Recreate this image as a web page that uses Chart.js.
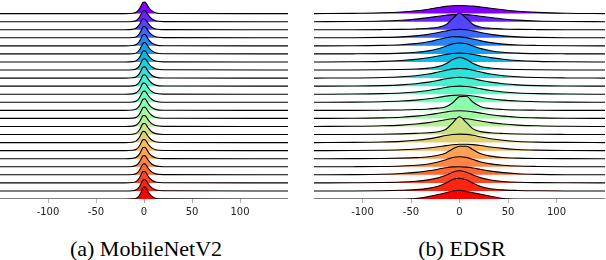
<!DOCTYPE html>
<html>
<head>
<meta charset="utf-8">
<script src="https://cdn.jsdelivr.net/npm/chart.js@4"></script>
<style>
    body { margin: 0; background: #fff; width: 606px; height: 260px; position: relative; overflow: hidden; }
    canvas { position: absolute; top: 0; }
    #chartA { left: 0; }
    #chartB { left: 314px; }
    .caption { position: absolute; top: 235px; font-family: 'Liberation Serif', serif; font-size: 22px; line-height: 27px; color: #000; text-align: center; width: 200px; }
</style>
</head>
<body>
<canvas id="chartA" width="288" height="221"></canvas>
<canvas id="chartB" width="291" height="221"></canvas>
<div class="caption" style="left: 46px;">(a) MobileNetV2</div>
<div class="caption" style="left: 362px;">(b) EDSR</div>
<script>
// Datos
const xTicks = [-100, -50, 0, 50, 100];

// MobileNetV2: posiciones x y alturas de cada cresta (fila 0 arriba)
const xsA = [-150, -20, -12, -8, -5, -3, -1, 1, 3, 5, 8, 12, 20, 150];
const ridgesA = [
    [0, 0, 0.04, 0.18, 0.55, 0.98, 1.40, 1.44, 1.14, 0.76, 0.38, 0.12, 0.01, 0],
    [0, 0, 0.03, 0.15, 0.50, 0.93, 1.32, 1.37, 1.08, 0.74, 0.36, 0.11, 0.01, 0],
    [0, 0, 0.05, 0.21, 0.60, 1.03, 1.37, 1.32, 1.03, 0.69, 0.33, 0.10, 0.01, 0],
    [0, 0, 0.03, 0.13, 0.47, 0.91, 1.34, 1.40, 1.11, 0.76, 0.39, 0.12, 0.02, 0],
    [0, 0, 0.04, 0.17, 0.53, 0.95, 1.38, 1.42, 1.11, 0.74, 0.37, 0.12, 0.01, 0],
    [0, 0, 0.03, 0.13, 0.45, 0.88, 1.32, 1.42, 1.15, 0.79, 0.41, 0.14, 0.02, 0],
    [0, 0, 0.04, 0.16, 0.51, 0.93, 1.35, 1.38, 1.08, 0.72, 0.35, 0.11, 0.01, 0],
    [0, 0, 0.03, 0.15, 0.49, 0.93, 1.34, 1.40, 1.13, 0.78, 0.41, 0.16, 0.03, 0],
    [0, 0, 0.04, 0.17, 0.52, 0.95, 1.36, 1.39, 1.09, 0.74, 0.36, 0.12, 0.01, 0],
    [0, 0, 0.03, 0.14, 0.48, 0.91, 1.35, 1.42, 1.13, 0.77, 0.39, 0.13, 0.02, 0],
    [0, 0, 0.04, 0.18, 0.55, 0.97, 1.38, 1.37, 1.06, 0.71, 0.34, 0.11, 0.01, 0],
    [0, 0, 0.03, 0.15, 0.50, 0.93, 1.34, 1.39, 1.10, 0.75, 0.38, 0.12, 0.01, 0],
    [0, 0, 0.04, 0.16, 0.52, 0.95, 1.38, 1.43, 1.12, 0.75, 0.37, 0.12, 0.01, 0],
    [0, 0, 0.03, 0.15, 0.49, 0.92, 1.35, 1.40, 1.11, 0.76, 0.39, 0.13, 0.02, 0],
    [0, 0, 0.04, 0.17, 0.52, 0.94, 1.34, 1.35, 1.06, 0.72, 0.35, 0.11, 0.01, 0],
    [0, 0, 0.04, 0.17, 0.53, 0.95, 1.35, 1.36, 1.07, 0.72, 0.35, 0.11, 0.01, 0],
    [0, 0, 0.05, 0.21, 0.61, 1.05, 1.40, 1.34, 1.01, 0.67, 0.32, 0.10, 0.01, 0],
    [0, 0, 0.04, 0.18, 0.55, 0.98, 1.37, 1.35, 1.05, 0.70, 0.34, 0.11, 0.01, 0],
    [0, 0, 0.04, 0.17, 0.53, 0.96, 1.39, 1.42, 1.10, 0.73, 0.36, 0.12, 0.01, 0],
    [0, 0, 0.04, 0.18, 0.55, 0.97, 1.37, 1.38, 1.07, 0.72, 0.35, 0.11, 0.01, 0],
    [0, 0, 0.04, 0.17, 0.53, 0.95, 1.34, 1.36, 1.07, 0.72, 0.36, 0.12, 0.02, 0],
    [0, 0, 0.04, 0.19, 0.57, 1.00, 1.40, 1.40, 1.08, 0.72, 0.35, 0.11, 0.01, 0],
    [0, 0, 0.03, 0.15, 0.49, 0.93, 1.36, 1.42, 1.13, 0.78, 0.41, 0.14, 0.02, 0],
    [0, 0, 0.02, 0.10, 0.40, 0.88, 1.40, 1.50, 1.18, 0.76, 0.35, 0.10, 0.01, 0]
];

// EDSR
const xsB = [-150, -110, -80, -60, -45, -32, -22, -14, -7, 0, 7, 14, 22, 32, 45, 60, 80, 110, 150];
const ridgesB = [
    [0, 0.03, 0.10, 0.20, 0.35, 0.55, 0.75, 0.90, 0.98, 1.00, 0.98, 0.93, 0.82, 0.66, 0.48, 0.30, 0.16, 0.05, 0],
    [0, 0.02, 0.08, 0.18, 0.32, 0.50, 0.68, 0.80, 0.88, 0.90, 0.87, 0.80, 0.68, 0.52, 0.34, 0.19, 0.08, 0.02, 0],
    [0, 0, 0.02, 0.05, 0.10, 0.18, 0.30, 0.62, 1.40, 2.05, 1.42, 0.66, 0.32, 0.18, 0.10, 0.05, 0.02, 0, 0],
    [0, 0.01, 0.05, 0.12, 0.24, 0.42, 0.65, 0.85, 1.00, 1.05, 1.00, 0.86, 0.66, 0.43, 0.24, 0.12, 0.05, 0.01, 0],
    [0, 0.01, 0.06, 0.14, 0.28, 0.50, 0.78, 1.00, 1.13, 1.12, 1.02, 0.84, 0.62, 0.40, 0.22, 0.11, 0.05, 0.01, 0],
    [0, 0.01, 0.04, 0.10, 0.20, 0.38, 0.64, 0.95, 1.25, 1.35, 1.26, 0.98, 0.66, 0.40, 0.20, 0.10, 0.04, 0.01, 0],
    [0, 0.02, 0.08, 0.18, 0.32, 0.52, 0.74, 0.92, 1.05, 1.10, 1.05, 0.93, 0.75, 0.54, 0.34, 0.19, 0.08, 0.02, 0],
    [0, 0, 0.03, 0.07, 0.13, 0.24, 0.42, 0.78, 1.30, 1.57, 1.32, 0.80, 0.44, 0.25, 0.13, 0.07, 0.03, 0, 0],
    [0, 0.02, 0.08, 0.17, 0.30, 0.50, 0.76, 0.98, 1.14, 1.20, 1.14, 0.98, 0.76, 0.50, 0.30, 0.16, 0.07, 0.02, 0],
    [0, 0.02, 0.07, 0.16, 0.30, 0.50, 0.72, 0.92, 1.05, 1.10, 1.05, 0.92, 0.72, 0.50, 0.30, 0.16, 0.07, 0.02, 0],
    [0, 0.02, 0.07, 0.15, 0.28, 0.46, 0.66, 0.84, 0.96, 1.00, 0.96, 0.85, 0.67, 0.47, 0.28, 0.15, 0.07, 0.02, 0],
    [0, 0.02, 0.07, 0.15, 0.27, 0.43, 0.60, 0.76, 0.86, 0.90, 0.87, 0.77, 0.62, 0.44, 0.27, 0.15, 0.07, 0.02, 0],
    [0, 0, 0.02, 0.05, 0.10, 0.17, 0.27, 0.45, 0.95, 1.70, 1.75, 1.00, 0.45, 0.22, 0.11, 0.05, 0.02, 0, 0],
    [0, 0.02, 0.07, 0.15, 0.28, 0.45, 0.64, 0.80, 0.91, 0.95, 0.92, 0.81, 0.65, 0.46, 0.28, 0.15, 0.07, 0.02, 0],
    [0, 0.02, 0.08, 0.17, 0.30, 0.48, 0.67, 0.84, 0.96, 1.00, 0.96, 0.84, 0.67, 0.48, 0.30, 0.17, 0.08, 0.02, 0],
    [0, 0.01, 0.04, 0.08, 0.14, 0.22, 0.35, 0.65, 1.45, 2.20, 1.50, 0.70, 0.36, 0.22, 0.13, 0.07, 0.03, 0.01, 0],
    [0, 0.02, 0.07, 0.15, 0.28, 0.46, 0.68, 0.88, 1.00, 1.05, 1.02, 0.90, 0.70, 0.48, 0.28, 0.14, 0.06, 0.02, 0],
    [0, 0.01, 0.05, 0.11, 0.20, 0.33, 0.48, 0.62, 0.73, 0.79, 0.80, 0.75, 0.63, 0.46, 0.28, 0.14, 0.06, 0.01, 0],
    [0, 0.01, 0.03, 0.07, 0.13, 0.24, 0.42, 0.72, 1.20, 1.55, 1.55, 1.10, 0.62, 0.32, 0.15, 0.07, 0.03, 0.01, 0],
    [0, 0.01, 0.04, 0.10, 0.19, 0.35, 0.58, 0.86, 1.15, 1.25, 1.16, 0.90, 0.60, 0.36, 0.19, 0.09, 0.04, 0.01, 0],
    [0, 0.02, 0.07, 0.16, 0.30, 0.50, 0.70, 0.88, 0.98, 1.00, 0.95, 0.84, 0.66, 0.46, 0.27, 0.14, 0.06, 0.01, 0],
    [0, 0.01, 0.04, 0.10, 0.20, 0.37, 0.62, 0.95, 1.32, 1.50, 1.33, 0.97, 0.62, 0.36, 0.18, 0.08, 0.03, 0.01, 0],
    [0, 0, 0.03, 0.08, 0.16, 0.32, 0.58, 0.98, 1.42, 1.58, 1.38, 0.95, 0.55, 0.28, 0.13, 0.06, 0.02, 0, 0],
    [0, 0, 0, 0, 0.05, 0.30, 0.55, 0.78, 1.00, 1.08, 0.95, 0.78, 0.58, 0.35, 0.05, 0, 0, 0, 0]
];

// Colores (mapa rainbow, de morado a rojo)
const colors = [
    '#8000ff', '#6923fe', '#5345fd', '#3d66fa', '#2784f6', '#11a1f0',
    '#06baea', '#1cd0e2', '#32e2da', '#48f0d0', '#5efac6', '#74feba',
    '#8bfeae', '#a1faa1', '#b7f093', '#cde284', '#e3d075', '#f9ba66',
    '#ffa155', '#ff8445', '#ff6634', '#ff4523', '#ff2311', '#ff0000'
];

// Construir datasets de una cresta por fila
function buildDatasets(xs, ridges) {
    const n = ridges.length;
    return ridges.map((row, i) => {
        const base = n - 1 - i;
        return {
            data: row.map((v, j) => ({ x: xs[j], y: base + v })),
            fill: { value: base },
            backgroundColor: colors[i],
            borderColor: '#000',
            borderWidth: 1.1,
            pointRadius: 0,
            cubicInterpolationMode: 'monotone',
            order: n - 1 - i
        };
    });
}

const chartConfig = (xs, ridges) => ({
    type: 'line',
    data: { datasets: buildDatasets(xs, ridges) },
    options: {
        responsive: false,
        animation: false,
        layout: { padding: 0 },
        scales: {
            x: {
                type: 'linear',
                min: -150,
                max: 150,
                afterBuildTicks: axis => { axis.ticks = xTicks.map(v => ({ value: v })); },
                grid: { drawOnChartArea: false, drawTicks: true, tickLength: 4, tickColor: '#b0b0b0' },
                border: { display: false },
                ticks: {
                    autoSkip: false,
                    maxRotation: 0,
                    padding: 3,
                    color: '#222',
                    font: { family: 'DejaVu Sans', size: 10 }
                }
            },
            y: { display: false, min: 0, max: 24.69 }
        },
        plugins: { legend: { display: false }, tooltip: { enabled: false } }
    }
});

// Inicializar
new Chart(document.getElementById('chartA'), chartConfig(xsA, ridgesA));
new Chart(document.getElementById('chartB'), chartConfig(xsB, ridgesB));
</script>
</body>
</html>
